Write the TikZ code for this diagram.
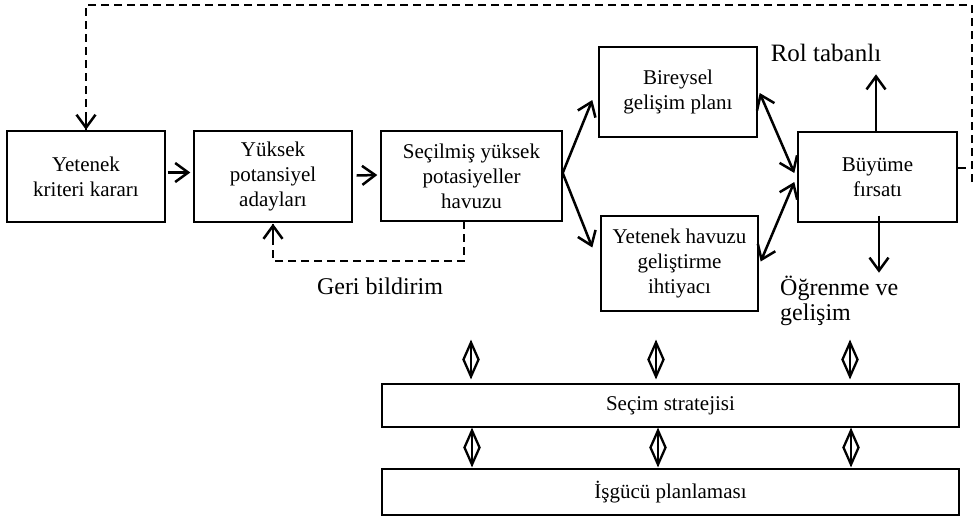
\documentclass[tikz,border=0pt]{standalone}
\usepackage{fontspec}
\setmainfont{Liberation Serif}
\usetikzlibrary{arrows.meta,calc,shapes.geometric}
\begin{document}
\begin{tikzpicture}[x=1pt,y=-1pt,
  box/.style={draw,line width=1.4pt,align=center,inner sep=0pt,font=\fontsize{21}{25}\selectfont},
  arr/.style={line width=2.5pt,-{Straight Barb[length=13pt,width=19pt,line width=2.5pt]}},
  darr/.style={line width=2.5pt,{Straight Barb[length=13pt,width=19pt,line width=2.5pt]}-{Straight Barb[length=13pt,width=19pt,line width=2.5pt]}},
  dsh/.style={line width=2.2pt,dash pattern=on 8pt off 5pt},
  dmd/.style={diamond,draw,line width=2.3pt,minimum width=16pt,minimum height=35pt,inner sep=0pt},
  lbl/.style={inner sep=0pt,font=\fontsize{24}{25}\selectfont}]
\useasboundingbox (0,0) rectangle (979,520);

\node[box,minimum width=158pt,minimum height=91pt] (Yet) at (86,176.5) {Yetenek\\kriteri kararı};
\node[box,minimum width=158pt,minimum height=91pt] (Yuk) at (273,176.5) {Yüksek\\potansiyel\\adayları};
\node[box,minimum width=181pt,minimum height=90pt] (Sec) at (471.5,176) {Seçilmiş yüksek\\potasiyeller\\havuzu};
\node[box,minimum width=158pt,minimum height=90pt] (Bir) at (678,92) {Bireysel\\gelişim planı};
\node[box,minimum width=157pt,minimum height=95pt] (Hav) at (679.5,263.5) {Yetenek havuzu\\geliştirme\\ihtiyacı};
\node[box,minimum width=159pt,minimum height=90pt] (Buy) at (877.5,177) {Büyüme\\fırsatı};
\node[box,minimum width=577pt,minimum height=43pt] (Sel) at (670.5,405.5) {Seçim stratejisi};
\node[box,minimum width=577pt,minimum height=46pt] (Isg) at (670.5,492) {İşgücü planlaması};

\node[lbl,font=\fontsize{25}{26}\selectfont] (rol) at (826,53) {Rol tabanlı};
\node[lbl,anchor=north west,align=left] (ogr) at (780,276) {Öğrenme ve\\gelişim};
\node[lbl] (geri) at (380,286) {Geri bildirim};

% main flow
\draw[arr] ($(Yet.east)+(2,-4)$) -- ($(Yuk.west)+(-3,-4)$);
\draw[arr] ($(Yuk.east)+(4,-1)$) -- ($(Sec.west)+(-3,-1)$);
\coordinate (split) at ($(Sec.east)+(0,-3)$);
\draw[arr] (split) -- ($(Bir.west)+(-6,8)$);
\draw[arr] (split) -- ($(Hav.west)+(-8,-16)$);
\draw[darr] ($(Bir.east)+(2,1)$) -- ($(Buy.west)+(-3,-4)$);
\draw[darr] ($(Hav.east)+(2,-2)$) -- ($(Buy.west)+(-3,5)$);
\draw[arr] ($(Buy.north)+(-1.5,0)$) -- ($(Buy.north)+(-1.5,-57)$);
\draw[arr] ($(Buy.south)+(1.5,-7)$) -- ($(Buy.south)+(1.5,50)$);

% feedback loops
\coordinate (fbR) at (972,168);
\coordinate (fbRlow) at (972,182);
\draw[dsh] (Buy.east |- fbR) -- (fbR);
\draw[dsh] (fbRlow) -- (972,5) -| (Yet.north);
\draw[line width=2.5pt,-{Straight Barb[length=13pt,width=19pt,line width=2.5pt]}] ($(Yet.north)+(0,-14)$) -- ($(Yet.north)+(0,-0.5)$);
\draw[dsh] (464,221) |- (273,261) -- (Yuk.south);
\draw[line width=2.5pt,-{Straight Barb[length=13pt,width=19pt,line width=2.5pt]}] ($(Yuk.south)+(0,16)$) -- ($(Yuk.south)+(0,1)$);

% diamonds
\foreach \n/\x/\y in {d1/471/359.5,d2/656/359.5,d3/850/359.5,d4/472/447.5,d5/658/447.5,d6/851/447.5}{
  \node[dmd] (\n) at (\x,\y) {};
  \draw[line width=2.3pt] (\n.north) -- (\n.south);
}
\end{tikzpicture}
\end{document}
